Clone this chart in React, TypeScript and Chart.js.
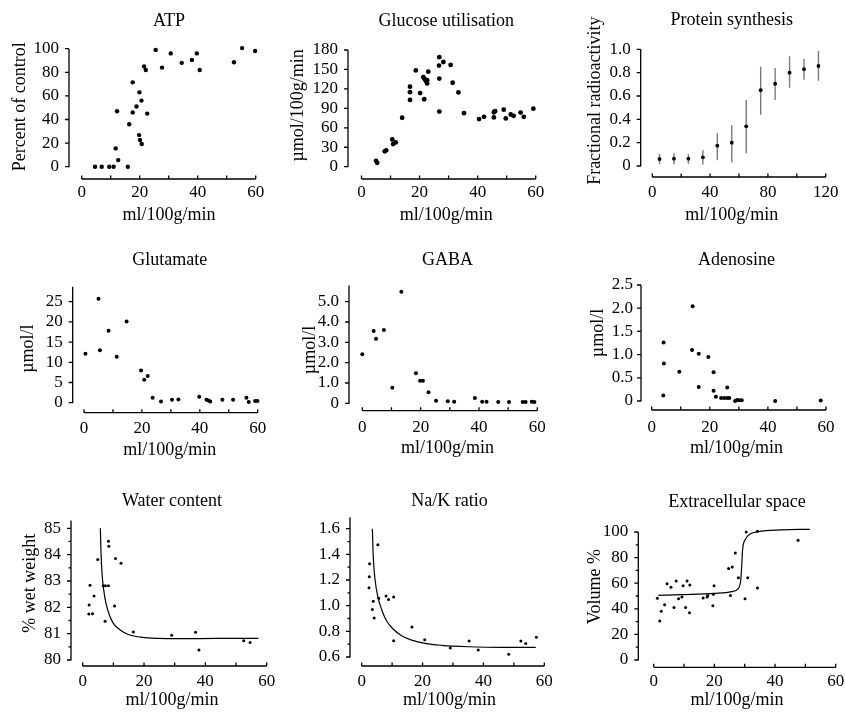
import React, { useEffect, useRef } from 'react';
import { Chart, registerables } from 'chart.js';
Chart.register(...registerables);

// ---------------- DATA ----------------
const atpX = [4.6, 6.9, 9.5, 11.0, 15.9, 11.7, 12.6, 12.2, 16.4, 17.6, 17.6, 18.9, 19.9, 20.6, 19.8, 20.1, 20.7, 21.5, 22.1, 22.6, 25.5, 27.7, 30.7, 34.5, 38.0, 39.7, 40.7, 52.5, 55.3, 59.8];
const atpY = [0, 0, 0, 0, 0, 15.5, 5.6, 47, 36, 46, 71.5, 51, 63, 56, 26.8, 22.6, 19.2, 85, 82, 45, 99, 84, 96, 88, 90.5, 96, 82, 88.5, 100.5, 98];

const gluX = [5.0, 5.4, 8.0, 8.5, 10.6, 10.9, 11.8, 14.0, 16.7, 16.7, 16.7, 18.7, 20.2, 21.6, 21.3, 21.8, 22.2, 22.6, 22.6, 23.0, 26.8, 26.7, 26.8, 26.8, 28.2, 30.7, 31.4, 33.4, 35.3, 40.5, 42.2, 45.6, 46.0, 45.6, 49.0, 49.7, 51.4, 52.4, 54.8, 55.9, 59.2];
const gluY = [9, 6, 23.7, 25.2, 42, 35, 37.5, 75.5, 123.5, 115, 103, 148.5, 113.5, 104, 138, 135, 132, 128.5, 133.5, 146.5, 169, 156, 136, 85, 161.5, 157, 129.5, 114.5, 82.5, 73.5, 77, 84, 85.5, 76, 88, 74.5, 80.5, 78.5, 83.5, 77, 89.5];

const protX = [5, 15, 25, 35, 45, 55, 65, 75, 85, 95, 105, 115];
const protY = [0.06, 0.063, 0.063, 0.074, 0.174, 0.2, 0.34, 0.65, 0.705, 0.8, 0.83, 0.857];
const protLo = [0.015, 0.015, 0.02, 0.012, 0.05, 0.03, 0.11, 0.44, 0.565, 0.67, 0.74, 0.73];
const protHi = [0.105, 0.11, 0.1, 0.135, 0.28, 0.35, 0.565, 0.85, 0.84, 0.94, 0.92, 0.986];

const gltX = [0.5, 5.0, 5.5, 8.5, 11.3, 14.7, 19.7, 20.8, 22.0, 23.7, 26.6, 30.4, 32.6, 39.8, 42.3, 43.0, 43.6, 47.8, 51.5, 56.1, 56.9, 59.1, 59.9];
const gltY = [12.1, 25.7, 13.0, 17.8, 11.4, 20.1, 8.0, 5.7, 6.6, 1.2, 0.3, 0.7, 0.8, 1.5, 0.7, 0.55, 0.3, 0.7, 0.7, 1.2, 0.2, 0.4, 0.4];

const gabaX = [0, 3.9, 4.7, 7.4, 10.3, 13.4, 18.4, 19.8, 20.8, 22.7, 25.3, 29.3, 31.5, 38.6, 41.1, 42.6, 46.6, 50.3, 55.0, 56.0, 58.1, 59.0];
const gabaY = [2.41, 3.56, 3.18, 3.61, 0.77, 5.49, 1.48, 1.11, 1.11, 0.54, 0.13, 0.1, 0.08, 0.26, 0.08, 0.08, 0.07, 0.07, 0.07, 0.07, 0.08, 0.07];

const adoX = [4.0, 4.2, 4.1, 9.5, 14.1, 13.9, 16.2, 16.2, 19.5, 21.3, 21.3, 22.1, 23.9, 25.0, 26.0, 26.0, 26.7, 28.7, 29.4, 30.1, 31.0, 42.5, 58.2];
const adoY = [0.12, 0.81, 1.26, 0.63, 2.04, 1.1, 1.02, 0.3, 0.95, 0.62, 0.22, 0.09, 0.065, 0.065, 0.29, 0.065, 0.065, 0.0, 0.02, 0.015, 0.015, 0.0, 0.01];

const watX = [2.1, 2.4, 2.0, 3.2, 3.7, 4.9, 6.7, 7.4, 7.3, 8.4, 8.4, 8.5, 10.4, 10.7, 12.5, 16.5, 29.0, 36.8, 37.9, 52.5, 54.6];
const watY = [82.09, 82.84, 81.75, 81.76, 82.43, 83.82, 82.82, 82.82, 81.47, 82.82, 84.51, 84.32, 82.05, 83.85, 83.67, 81.06, 80.94, 81.05, 80.38, 80.73, 80.66];
const watFitX = [5.76, 5.98, 6.3, 6.85, 7.6, 8.7, 10.0, 12.2, 14.9, 18.7, 24.1, 32.8, 43.7, 57.3];
const watFitY = [85.0, 84.05, 83.29, 82.66, 82.15, 81.71, 81.39, 81.14, 80.97, 80.87, 80.82, 80.81, 80.82, 80.82];

const nakX = [2.6, 2.5, 2.4, 3.5, 3.8, 4.1, 5.3, 5.6, 8.0, 8.8, 10.5, 10.5, 16.5, 20.7, 29.1, 35.3, 38.3, 48.3, 52.3, 53.9, 57.4];
const nakY = [1.327, 1.226, 1.14, 0.971, 1.034, 0.904, 1.475, 1.057, 1.075, 1.049, 1.068, 0.727, 0.834, 0.735, 0.67, 0.725, 0.655, 0.621, 0.725, 0.706, 0.753];
const nakFitX = [3.5, 3.8, 4.4, 5.3, 6.6, 8.2, 10.4, 13.1, 16.4, 20.8, 26.3, 35.0, 46.0, 57.2];
const nakFitY = [1.6, 1.38, 1.2, 1.07, 0.966, 0.88, 0.816, 0.766, 0.732, 0.706, 0.691, 0.68, 0.675, 0.675];

const ecsX = [1.2, 2.0, 2.5, 3.6, 4.4, 5.7, 6.7, 7.4, 8.2, 9.3, 9.7, 10.5, 11.0, 11.9, 11.8, 16.3, 17.6, 17.8, 19.5, 19.7, 19.9, 24.7, 25.3, 25.9, 26.9, 27.9, 30.1, 30.5, 31.0, 34.2, 34.2, 47.6];
const ecsY = [48.2, 30.5, 38.0, 43.2, 59.6, 56.8, 41.1, 61.7, 47.9, 49.2, 58.1, 41.1, 61.7, 58.6, 37.0, 48.4, 49.2, 50.3, 42.4, 51.3, 58.1, 71.4, 50.3, 72.7, 83.6, 64.3, 47.9, 100, 64.3, 100.5, 56.3, 93.5];
const ecsFitX = [1.5, 9.2, 20.2, 25.7, 27.9, 28.7, 29.0, 29.3, 30.1, 31.8, 34.5, 42.2, 51.5];
const ecsFitY = [50.5, 51, 52, 53.4, 56, 62.5, 73, 86, 93.8, 98.4, 100.3, 101.6, 102.1];

// tick values and labels
const flowTicks = [0, 20, 40, 60];
const flowLabels = ['0', '20', '40', '60'];
const flowMarks = [0, 10, 20, 30, 40, 50, 60];
const protXTicks = [0, 40, 80, 120];
const protXLabels = ['0', '40', '80', '120'];
const protXMarks = [0, 20, 40, 60, 80, 100, 120];
const atpYTicks = [0, 20, 40, 60, 80, 100];
const atpYLabels = ['0', '20', '40', '60', '80', '100'];
const gluYTicks = [0, 30, 60, 90, 120, 150, 180];
const gluYLabels = ['0', '30', '60', '90', '120', '150', '180'];
const protYTicks = [0, 0.2, 0.4, 0.6, 0.8, 1.0];
const protYLabels = ['0', '0.2', '0.4', '0.6', '0.8', '1.0'];
const gltYTicks = [0, 5, 10, 15, 20, 25];
const gltYLabels = ['0', '5', '10', '15', '20', '25'];
const gabaYTicks = [0, 1, 2, 3, 4, 5];
const gabaYLabels = ['0', '1.0', '2.0', '3.0', '4.0', '5.0'];
const adoYTicks = [0, 0.5, 1.0, 1.5, 2.0, 2.5];
const adoYLabels = ['0', '0.5', '1.0', '1.5', '2.0', '2.5'];
const watYTicks = [80, 81, 82, 83, 84, 85];
const watYLabels = ['80', '81', '82', '83', '84', '85'];
const watYMinor = [80.5, 81.5, 82.5, 83.5, 84.5];
const nakYTicks = [0.6, 0.8, 1.0, 1.2, 1.4, 1.6];
const nakYLabels = ['0.6', '0.8', '1.0', '1.2', '1.4', '1.6'];
const nakYMinor = [0.7, 0.9, 1.1, 1.3, 1.5];
const ecsYTicks = [0, 20, 40, 60, 80, 100];
const ecsYLabels = ['0', '20', '40', '60', '80', '100'];
const ecsYMinor = [10, 30, 50, 70, 90];

// ---------------- LAYOUT / STYLE ----------------
const FONT = "'Liberation Serif', 'Times New Roman', Times, serif";
const TITLE_SIZE = 18;
const AXIS_TITLE_SIZE = 18;
const TICK_SIZE = 17;
const W_EXTRA = 40;
const X_TITLE = 'ml/100g/min';

type Series = { x: number[]; y: number[]; kind: 'points' | 'curve'; radius?: number };

interface PanelCfg {
  title: string;
  xTitle: string;
  yTitle: string | null;
  rect: [number, number, number, number];
  area: { l: number; t: number; r: number; b: number };
  xCal: [number, number, number, number];
  yCal: [number, number, number, number];
  titleY: number;
  yTitleX: number;
  xTitleY: number;
  xTickY: number;
  yTickPad: number;
  xTicks: number[];
  xLabels: string[];
  xMarks: number[];
  xLine: [number, number];
  yTicks: number[];
  yLabels: string[];
  yMinor: number[];
  yLine: [number, number];
  series: Series[];
  err?: { x: number[]; lo: number[]; hi: number[] };
}

const panels: PanelCfg[] = [
  {
    title: 'ATP', xTitle: X_TITLE, yTitle: 'Percent of control',
    rect: [0, 0, 285, 235], area: { l: 69, t: 34.4, r: 269, b: 179 },
    xCal: [0, 81.7, 60, 255.7], yCal: [0, 166.7, 100, 48.7],
    titleY: 21.7, yTitleX: 20, xTitleY: 215, xTickY: 193, yTickPad: 10,
    xTicks: flowTicks, xLabels: flowLabels, xMarks: flowMarks, xLine: [0, 60],
    yTicks: atpYTicks, yLabels: atpYLabels, yMinor: [], yLine: [0, 100],
    series: [{ x: atpX, y: atpY, kind: 'points', radius: 2.2 }],
  },
  {
    title: 'Glucose utilisation', xTitle: X_TITLE, yTitle: 'µmol/100g/min',
    rect: [285, 0, 280, 235], area: { l: 348, t: 31.8, r: 544.3, b: 179 },
    xCal: [0, 361.5, 60, 535.7], yCal: [0, 166.7, 180, 50],
    titleY: 21, yTitleX: 298.3, xTitleY: 215, xTickY: 193, yTickPad: 10,
    xTicks: flowTicks, xLabels: flowLabels, xMarks: flowMarks, xLine: [0, 60],
    yTicks: gluYTicks, yLabels: gluYLabels, yMinor: [], yLine: [0, 180],
    series: [{ x: gluX, y: gluY, kind: 'points', radius: 2.4 }],
  },
  {
    title: 'Protein synthesis', xTitle: X_TITLE, yTitle: 'Fractional radioactivity',
    rect: [565, 0, 280, 235], area: { l: 640.7, t: 24.3, r: 822.6, b: 177 },
    xCal: [0, 652.3, 120, 825.7], yCal: [0, 166, 1, 49.3],
    titleY: 20.7, yTitleX: 595, xTitleY: 215, xTickY: 193, yTickPad: 10,
    xTicks: protXTicks, xLabels: protXLabels, xMarks: protXMarks, xLine: [0, 120],
    yTicks: protYTicks, yLabels: protYLabels, yMinor: [], yLine: [0, 1],
    series: [{ x: protX, y: protY, kind: 'points', radius: 1.9 }],
    err: { x: protX, lo: protLo, hi: protHi },
  },
  {
    title: 'Glutamate', xTitle: X_TITLE, yTitle: 'µmol/l',
    rect: [0, 235, 285, 235], area: { l: 72.7, t: 284.6, r: 266.6, b: 412.7 },
    xCal: [0, 84, 60, 257.7], yCal: [0, 402.7, 25, 301.7],
    titleY: 260, yTitleX: 28.3, xTitleY: 450, xTickY: 428.3, yTickPad: 10,
    xTicks: flowTicks, xLabels: flowLabels, xMarks: flowMarks, xLine: [0, 60],
    yTicks: gltYTicks, yLabels: gltYLabels, yMinor: [], yLine: [0, 28.7],
    series: [{ x: gltX, y: gltY, kind: 'points', radius: 2 }],
  },
  {
    title: 'GABA', xTitle: X_TITLE, yTitle: 'µmol/l',
    rect: [285, 235, 280, 235], area: { l: 349, t: 289.3, r: 545.9, b: 410.7 },
    xCal: [0, 362.3, 60, 537.3], yCal: [0, 403.3, 5, 301.7],
    titleY: 260, yTitleX: 310, xTitleY: 448.3, xTickY: 427.7, yTickPad: 10,
    xTicks: flowTicks, xLabels: flowLabels, xMarks: flowMarks, xLine: [0, 60],
    yTicks: gabaYTicks, yLabels: gabaYLabels, yMinor: [], yLine: [0, 5.8],
    series: [{ x: gabaX, y: gabaY, kind: 'points', radius: 2 }],
  },
  {
    title: 'Adenosine', xTitle: X_TITLE, yTitle: 'µmol/l',
    rect: [565, 235, 280, 235], area: { l: 641, t: 256, r: 832, b: 410 },
    xCal: [0, 651.7, 60, 826], yCal: [0, 401, 2.5, 285],
    titleY: 260, yTitleX: 598.3, xTitleY: 448.3, xTickY: 427.7, yTickPad: 8,
    xTicks: flowTicks, xLabels: flowLabels, xMarks: flowMarks, xLine: [0, 60],
    yTicks: adoYTicks, yLabels: adoYLabels, yMinor: [], yLine: [0, 2.5],
    series: [{ x: adoX, y: adoY, kind: 'points', radius: 2 }],
  },
  {
    title: 'Water content', xTitle: X_TITLE, yTitle: '% wet weight',
    rect: [0, 470, 285, 242], area: { l: 71, t: 500.7, r: 273, b: 666 },
    xCal: [0, 82.7, 60, 266.7], yCal: [80, 660, 85, 528.3],
    titleY: 501.7, yTitleX: 30, xTitleY: 700, xTickY: 681.7, yTickPad: 10,
    xTicks: flowTicks, xLabels: flowLabels, xMarks: flowMarks, xLine: [0, 60],
    yTicks: watYTicks, yLabels: watYLabels, yMinor: watYMinor, yLine: [80, 85.3],
    series: [
      { x: watFitX, y: watFitY, kind: 'curve' },
      { x: watX, y: watY, kind: 'points', radius: 1.5 },
    ],
  },
  {
    title: 'Na/K ratio', xTitle: X_TITLE, yTitle: null,
    rect: [285, 470, 280, 242], area: { l: 350, t: 510, r: 548.8, b: 666 },
    xCal: [0, 361.7, 60, 544.3], yCal: [0.6, 657, 1.6, 528.7],
    titleY: 501.7, yTitleX: 300, xTitleY: 700, xTickY: 681.7, yTickPad: 10,
    xTicks: flowTicks, xLabels: flowLabels, xMarks: flowMarks, xLine: [0, 60],
    yTicks: nakYTicks, yLabels: nakYLabels, yMinor: nakYMinor, yLine: [0.6, 1.69],
    series: [
      { x: nakFitX, y: nakFitY, kind: 'curve' },
      { x: nakX, y: nakY, kind: 'points', radius: 1.5 },
    ],
  },
  {
    title: 'Extracellular space', xTitle: X_TITLE, yTitle: 'Volume %',
    rect: [565, 470, 280, 242], area: { l: 638.3, t: 506, r: 835.7, b: 667.3 },
    xCal: [0, 653.7, 60, 835.7], yCal: [0, 660, 100, 532],
    titleY: 502, yTitleX: 595, xTitleY: 700, xTickY: 681.7, yTickPad: 10,
    xTicks: flowTicks, xLabels: flowLabels, xMarks: flowMarks, xLine: [0, 60],
    yTicks: ecsYTicks, yLabels: ecsYLabels, yMinor: ecsYMinor, yLine: [0, 100],
    series: [
      { x: ecsFitX, y: ecsFitY, kind: 'curve' },
      { x: ecsX, y: ecsY, kind: 'points', radius: 1.5 },
    ],
  },
];

function labelFor(ticks: number[], labels: string[], v: number): string {
  for (let i = 0; i < ticks.length; i++) {
    if (Math.abs(ticks[i] - v) < 1e-9) return labels[i];
  }
  return '';
}

function drawAxes(chart: any, c: PanelCfg) {
  const ctx: CanvasRenderingContext2D = chart.ctx;
  const xs = chart.scales.x;
  const ys = chart.scales.y;
  const { left, bottom } = chart.chartArea;
  ctx.save();
  ctx.strokeStyle = '#000';
  ctx.lineWidth = 1.3;
  ctx.beginPath();
  const yTop = ys.getPixelForValue(c.yLine[1]);
  const yBot = ys.getPixelForValue(c.yLine[0]);
  ctx.moveTo(left, yTop);
  ctx.lineTo(left, yBot + 0.6);
  c.yTicks.forEach((v) => {
    const p = ys.getPixelForValue(v);
    ctx.moveTo(left, p);
    ctx.lineTo(left - 4, p);
  });
  c.yMinor.forEach((v) => {
    const p = ys.getPixelForValue(v);
    ctx.moveTo(left, p);
    ctx.lineTo(left - 2.5, p);
  });
  const x0 = xs.getPixelForValue(c.xLine[0]);
  const x1 = xs.getPixelForValue(c.xLine[1]);
  ctx.moveTo(x0, bottom);
  ctx.lineTo(x1, bottom);
  c.xMarks.forEach((v) => {
    const p = xs.getPixelForValue(v);
    ctx.moveTo(p, bottom);
    ctx.lineTo(p, bottom - 3.5);
  });
  ctx.stroke();
  ctx.restore();
}

function drawErrors(chart: any, c: PanelCfg) {
  if (!c.err) return;
  const ctx: CanvasRenderingContext2D = chart.ctx;
  const xs = chart.scales.x;
  const ys = chart.scales.y;
  ctx.save();
  ctx.strokeStyle = '#7a7a7a';
  ctx.lineWidth = 1.4;
  ctx.beginPath();
  c.err.x.forEach((xv, i) => {
    const px = xs.getPixelForValue(xv);
    ctx.moveTo(px, ys.getPixelForValue(c.err!.lo[i]));
    ctx.lineTo(px, ys.getPixelForValue(c.err!.hi[i]));
  });
  ctx.stroke();
  ctx.restore();
}

function Panel({ c, idx }: { c: PanelCfg; idx: number }) {
  const ref = useRef<HTMLCanvasElement>(null);
  const [PL, PT, PW, PH] = c.rect;
  const cw = PW + W_EXTRA;

  useEffect(() => {
    const canvas = ref.current;
    if (!canvas) return;
    const [xv0, xp0, xv1, xp1] = c.xCal;
    const kx = (xp1 - xp0) / (xv1 - xv0);
    const xMin = xv0 - (xp0 - c.area.l) / kx;
    const xMax = xv0 + (c.area.r - xp0) / kx;
    const [yv0, yp0, yv1, yp1] = c.yCal;
    const ky = (yp0 - yp1) / (yv1 - yv0);
    const yMin = yv0 - (c.area.b - yp0) / ky;
    const yMax = yv0 + (yp0 - c.area.t) / ky;

    const lhT = TITLE_SIZE * 1.2;
    const lhA = AXIS_TITLE_SIZE * 1.2;
    const lhK = TICK_SIZE * 1.2;
    const titlePadTop = c.titleY - PT - lhT / 2;
    const titlePadBottom = c.area.t - PT - lhT - titlePadTop;
    const yTitlePad = c.yTitleX - PL - lhA / 2;
    const xTitlePad = PT + PH - c.xTitleY - lhA / 2;
    const xTickPad = c.xTickY - c.area.b - lhK / 2;

    const datasets: any[] = c.series.map((s) => {
      const data = s.x.map((x, i) => ({ x, y: s.y[i] }));
      if (s.kind === 'curve') {
        return {
          data,
          showLine: true,
          borderColor: '#000',
          borderWidth: 1.2,
          pointRadius: 0,
          cubicInterpolationMode: 'monotone',
          fill: false,
          clip: false,
        };
      }
      return {
        data,
        showLine: false,
        pointRadius: s.radius || 2,
        pointBackgroundColor: '#000',
        pointBorderColor: '#000',
        pointBorderWidth: 0,
        clip: false,
      };
    });

    const plugin = {
      id: 'detachedAxes' + idx,
      beforeDatasetsDraw(chart: any) {
        drawErrors(chart, c);
      },
      afterDatasetsDraw(chart: any) {
        drawAxes(chart, c);
      },
    };

    const chart = new Chart(canvas, {
      type: 'scatter',
      data: { datasets },
      options: {
        responsive: false,
        maintainAspectRatio: false,
        animation: false,
        events: [],
        layout: { padding: { left: 0, top: 0, bottom: 0, right: PL + cw - c.area.r } },
        plugins: {
          legend: { display: false },
          tooltip: { enabled: false },
          title: {
            display: true,
            text: c.title,
            fullSize: false,
            color: '#000',
            font: { family: FONT, size: TITLE_SIZE, weight: 'normal' },
            padding: { top: titlePadTop, bottom: titlePadBottom },
          },
        },
        scales: {
          x: {
            type: 'linear',
            position: 'bottom',
            min: xMin,
            max: xMax,
            grid: { display: false, drawTicks: false },
            border: { display: false },
            afterBuildTicks: (s: any) => {
              s.ticks = c.xTicks.map((v) => ({ value: v }));
            },
            afterFit: (s: any) => {
              s.height = PT + PH - c.area.b;
            },
            ticks: {
              autoSkip: false,
              maxRotation: 0,
              minRotation: 0,
              padding: xTickPad,
              color: '#000',
              font: { family: FONT, size: TICK_SIZE },
              callback: (v: any) => labelFor(c.xTicks, c.xLabels, Number(v)),
            },
            title: {
              display: true,
              text: c.xTitle,
              color: '#000',
              font: { family: FONT, size: AXIS_TITLE_SIZE },
              padding: { top: 0, bottom: xTitlePad },
            },
          },
          y: {
            type: 'linear',
            position: 'left',
            min: yMin,
            max: yMax,
            grid: { display: false, drawTicks: false },
            border: { display: false },
            afterBuildTicks: (s: any) => {
              s.ticks = c.yTicks.map((v) => ({ value: v }));
            },
            afterFit: (s: any) => {
              s.width = c.area.l - PL;
            },
            ticks: {
              autoSkip: false,
              padding: c.yTickPad,
              color: '#000',
              font: { family: FONT, size: TICK_SIZE },
              callback: (v: any) => labelFor(c.yTicks, c.yLabels, Number(v)),
            },
            title: {
              display: !!c.yTitle,
              text: c.yTitle || '',
              color: '#000',
              font: { family: FONT, size: AXIS_TITLE_SIZE },
              padding: { top: yTitlePad, bottom: 0 },
            },
          },
        },
      } as any,
      plugins: [plugin],
    });
    return () => chart.destroy();
  }, [c, idx]);

  return (
    <canvas
      ref={ref}
      width={cw}
      height={PH}
      style={{ position: 'absolute', left: PL, top: PT, width: cw, height: PH }}
    />
  );
}

export default function App() {
  return (
    <div
      style={{
        position: 'absolute',
        left: 0,
        top: 0,
        width: 845,
        height: 712,
        overflow: 'hidden',
        background: '#fff',
      }}
    >
      {panels.map((c, i) => (
        <Panel key={i} c={c} idx={i} />
      ))}
    </div>
  );
}
